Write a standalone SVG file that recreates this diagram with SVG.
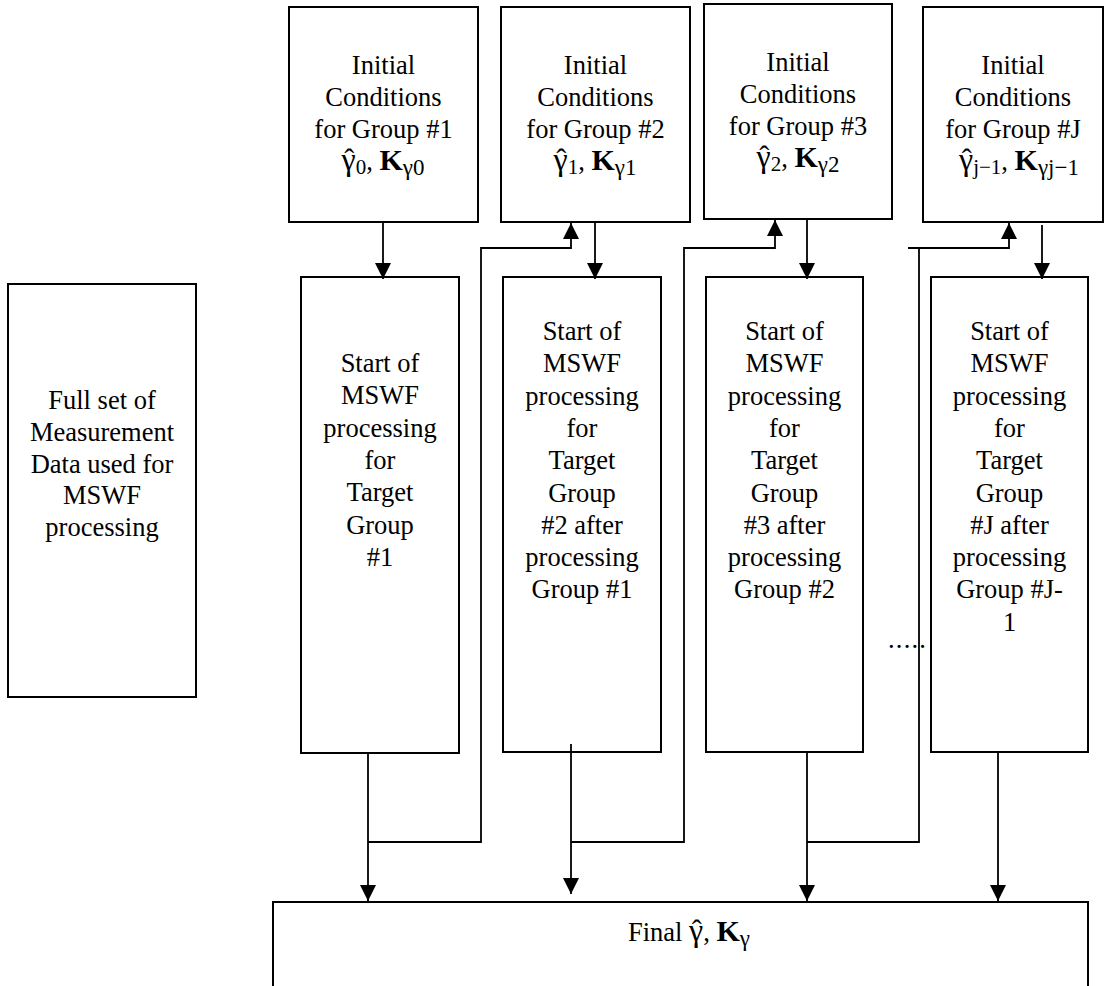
<svg xmlns="http://www.w3.org/2000/svg" width="1107" height="986" viewBox="0 0 1107 986">
  <style>
    .box { fill: #ffffff; stroke: #000000; stroke-width: 2; }
    .t { font-family: "Liberation Serif", "Times New Roman", serif; font-size: 26.5px; fill: #000000; text-anchor: middle; }
    .ts { font-family: "Liberation Serif", "Times New Roman", serif; font-size: 26.5px; fill: #000000; }
    .g { font-size: 32px; }
    .hat { font-size: 30px; }
    .sub { font-size: 21px; }
    .ksub { font-size: 23px; }
    .b { font-weight: bold; font-size: 30px; }
    .wire { fill: none; stroke: #000000; stroke-width: 1.8; }
  </style>
  <defs>
    <marker id="arrow" markerUnits="userSpaceOnUse" markerWidth="18" markerHeight="18" refX="16" refY="8" orient="auto">
      <path d="M0,0 L16,8 L0,16 Z" fill="#000000"/>
    </marker>
  </defs>

  <rect width="1107" height="986" fill="#ffffff"/>

  <!-- measurement data -->
  <g id="node-data">
    <rect class="box" x="8" y="284" width="188" height="413"/>
    <text class="t" x="102" y="409">Full set of</text>
    <text class="t" x="102" y="441">Measurement</text>
    <text class="t" x="102" y="472.5">Data used for</text>
    <text class="t" x="102" y="504">MSWF</text>
    <text class="t" x="102" y="536">processing</text>
  </g>

  <!-- initial conditions (gamma hat: gamma, then circumflex pulled back over it) -->
  <g id="node-init1">
    <rect class="box" x="289" y="7" width="189" height="215"/>
    <text class="t" x="383.5" y="74">Initial</text>
    <text class="t" x="383.5" y="106">Conditions</text>
    <text class="t" x="383.5" y="138">for Group #1</text>
    <text class="t" x="383" y="170"><tspan class="g">γ</tspan><tspan class="hat" dx="-11.5" dy="-1">ˆ</tspan><tspan class="sub" dx="1.5" dy="5">0</tspan><tspan dy="-4">, </tspan><tspan class="b">K</tspan><tspan class="ksub" dy="5">γ0</tspan></text>
  </g>
  <g id="node-init2">
    <rect class="box" x="501" y="7" width="189" height="215"/>
    <text class="t" x="595.5" y="74">Initial</text>
    <text class="t" x="595.5" y="106">Conditions</text>
    <text class="t" x="595.5" y="138">for Group #2</text>
    <text class="t" x="595" y="170"><tspan class="g">γ</tspan><tspan class="hat" dx="-11.5" dy="-1">ˆ</tspan><tspan class="sub" dx="1.5" dy="5">1</tspan><tspan dy="-4">, </tspan><tspan class="b">K</tspan><tspan class="ksub" dy="5">γ1</tspan></text>
  </g>
  <g id="node-init3">
    <rect class="box" x="704" y="4" width="188" height="215"/>
    <text class="t" x="798" y="71">Initial</text>
    <text class="t" x="798" y="103">Conditions</text>
    <text class="t" x="798" y="135">for Group #3</text>
    <text class="t" x="798" y="167"><tspan class="g">γ</tspan><tspan class="hat" dx="-11.5" dy="-1">ˆ</tspan><tspan class="sub" dx="1.5" dy="5">2</tspan><tspan dy="-4">, </tspan><tspan class="b">K</tspan><tspan class="ksub" dy="5">γ2</tspan></text>
  </g>
  <g id="node-initJ">
    <rect class="box" x="923" y="7" width="180" height="215"/>
    <text class="t" x="1013" y="74">Initial</text>
    <text class="t" x="1013" y="106">Conditions</text>
    <text class="t" x="1013" y="138">for Group #J</text>
    <text class="t" x="1019" y="170"><tspan class="g">γ</tspan><tspan class="hat" dx="-11.5" dy="-1">ˆ</tspan><tspan class="sub" dx="1.5" dy="5">j−1</tspan><tspan dy="-4">, </tspan><tspan class="b">K</tspan><tspan class="ksub" dy="5">γj−1</tspan></text>
  </g>

  <!-- MSWF processing stages -->
  <g id="node-proc1">
    <rect class="box" x="301" y="277" width="158" height="476"/>
    <text class="t" x="380" y="372">Start of</text>
    <text class="t" x="380" y="404.3">MSWF</text>
    <text class="t" x="380" y="436.6">processing</text>
    <text class="t" x="380" y="468.9">for</text>
    <text class="t" x="380" y="501.2">Target</text>
    <text class="t" x="380" y="533.5">Group</text>
    <text class="t" x="380" y="565.8">#1</text>
  </g>
  <g id="node-proc2">
    <rect class="box" x="503" y="277" width="158" height="475"/>
    <text class="t" x="582" y="340">Start of</text>
    <text class="t" x="582" y="372.3">MSWF</text>
    <text class="t" x="582" y="404.6">processing</text>
    <text class="t" x="582" y="436.9">for</text>
    <text class="t" x="582" y="469.2">Target</text>
    <text class="t" x="582" y="501.5">Group</text>
    <text class="t" x="582" y="533.8">#2 after</text>
    <text class="t" x="582" y="566.1">processing</text>
    <text class="t" x="582" y="598.4">Group #1</text>
  </g>
  <g id="node-proc3">
    <rect class="box" x="706" y="277" width="157" height="475"/>
    <text class="t" x="784.5" y="340">Start of</text>
    <text class="t" x="784.5" y="372.3">MSWF</text>
    <text class="t" x="784.5" y="404.6">processing</text>
    <text class="t" x="784.5" y="436.9">for</text>
    <text class="t" x="784.5" y="469.2">Target</text>
    <text class="t" x="784.5" y="501.5">Group</text>
    <text class="t" x="784.5" y="533.8">#3 after</text>
    <text class="t" x="784.5" y="566.1">processing</text>
    <text class="t" x="784.5" y="598.4">Group #2</text>
  </g>
  <g id="node-procJ">
    <rect class="box" x="931" y="277" width="157" height="475"/>
    <text class="t" x="1009.5" y="340">Start of</text>
    <text class="t" x="1009.5" y="372.3">MSWF</text>
    <text class="t" x="1009.5" y="404.6">processing</text>
    <text class="t" x="1009.5" y="436.9">for</text>
    <text class="t" x="1009.5" y="469.2">Target</text>
    <text class="t" x="1009.5" y="501.5">Group</text>
    <text class="t" x="1009.5" y="533.8">#J after</text>
    <text class="t" x="1009.5" y="566.1">processing</text>
    <text class="t" x="1009.5" y="598.4">Group #J-</text>
    <text class="t" x="1009.5" y="630.7">1</text>
  </g>

  <!-- ellipsis between stage 3 and stage J -->
  <g id="node-ellipsis">
    <text class="ts" x="888" y="648" letter-spacing="1.2">.....</text>
  </g>

  <!-- final estimate -->
  <g id="node-final">
    <rect class="box" x="273" y="902" width="815" height="100"/>
    <text class="ts" x="628" y="941">Final <tspan class="g">γ</tspan><tspan class="hat" dx="-11.5" dy="-1">ˆ</tspan><tspan dx="1.5" dy="1">, </tspan><tspan class="b">K</tspan><tspan class="ksub" dy="5">γ</tspan></text>
  </g>

  <!-- connectors -->
  <g id="connectors">
    <!-- initial conditions into each stage -->
    <path class="wire" d="M383,222 V279" marker-end="url(#arrow)"/>
    <path class="wire" d="M595,222 V279" marker-end="url(#arrow)"/>
    <path class="wire" d="M807,219 V279" marker-end="url(#arrow)"/>
    <path class="wire" d="M1042,225 V279" marker-end="url(#arrow)"/>

    <!-- stage outputs down to the final block -->
    <path class="wire" d="M368,753 V901" marker-end="url(#arrow)"/>
    <path class="wire" d="M571,744 V894" marker-end="url(#arrow)"/>
    <path class="wire" d="M807,752 V901" marker-end="url(#arrow)"/>
    <path class="wire" d="M998,752 V901" marker-end="url(#arrow)"/>

    <!-- stage outputs fed forward as next initial conditions -->
    <path class="wire" d="M368,842 H481 V248 H571 V223" marker-end="url(#arrow)"/>
    <path class="wire" d="M571,842 H684 V248 H775 V220" marker-end="url(#arrow)"/>
    <path class="wire" d="M807,842 H919 V248"/>
    <path class="wire" d="M908,248 H1009 V223" marker-end="url(#arrow)"/>
  </g>
</svg>
